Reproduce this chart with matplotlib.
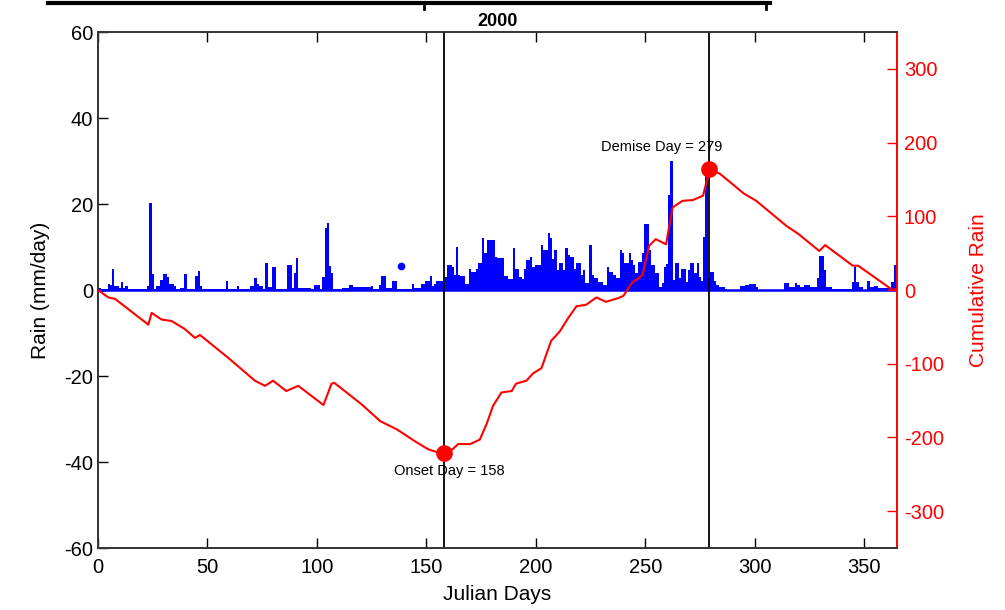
import numpy as np
import matplotlib.pyplot as plt
from matplotlib.lines import Line2D

plt.rcParams['font.family'] = ['Liberation Sans', 'DejaVu Sans']
plt.rcParams['axes.unicode_minus'] = False

# daily rain (mm/day), Julian day 0..365
rain = [
    0.5, 0.5, 0.3, 0.3, 0.3, 1.5, 1.2, 5.0, 1.0, 1.0,
    0.5, 1.8, 0.5, 1.0, 0.3, 0.3, 0.3, 0.3, 0.3, 0.3,
    0.3, 0.3, 0.3, 1.0, 20.3, 3.7, 0.3, 1.0, 1.0, 2.3,
    3.7, 3.7, 3.0, 1.5, 1.5, 1.0, 0.3, 0.3, 0.5, 0.5,
    3.7, 0.3, 0.3, 0.3, 0.3, 3.2, 4.5, 1.0, 0.3, 0.3,
    0.3, 0.3, 0.3, 0.3, 0.3, 0.3, 0.3, 0.3, 0.3, 2.0,
    0.2, 0.2, 0.2, 0.2, 1.0, 0.2, 0.2, 0.2, 0.2, 0.2,
    1.0, 1.0, 2.7, 1.5, 1.0, 1.0, 0.3, 6.3, 0.6, 0.6,
    5.4, 5.4, 0.3, 0.3, 0.3, 0.3, 0.3, 5.9, 5.9, 0.5,
    4.0, 7.5, 0.5, 0.5, 0.5, 0.5, 0.5, 0.5, 0.3, 1.2,
    1.2, 1.2, 0.3, 3.0, 14.4, 15.6, 5.6, 3.9, 0.3, 0.3,
    0.3, 0.3, 0.5, 0.5, 0.5, 1.2, 1.2, 0.6, 0.6, 0.6,
    0.6, 0.6, 0.6, 0.6, 0.6, 1.0, 0.3, 0.3, 0.3, 1.2,
    3.3, 3.3, 0.4, 0.4, 0.4, 2.2, 2.2, 0.2, 0.2, 0.2,
    0.2, 0.2, 0.2, 0.2, 1.5, 0.5, 0.5, 0.5, 1.5, 1.5,
    2.2, 2.2, 3.2, 1.0, 1.5, 2.2, 2.2, 2.2, 0.5, 3.1,
    5.8, 5.8, 5.4, 3.6, 10.0, 3.6, 3.3, 3.3, 1.5, 1.5,
    5.0, 4.2, 4.2, 5.0, 6.3, 6.3, 12.2, 8.6, 11.7, 11.7,
    11.6, 11.6, 7.6, 7.5, 7.4, 7.4, 3.3, 3.3, 2.5, 2.5,
    9.7, 5.0, 5.0, 3.1, 2.5, 5.0, 7.0, 7.0, 7.6, 5.4,
    5.8, 5.8, 5.8, 10.5, 9.3, 9.3, 13.2, 12.2, 7.2, 9.4,
    4.7, 6.4, 6.4, 4.7, 9.7, 8.2, 7.6, 7.6, 5.0, 6.2,
    6.2, 3.5, 4.7, 1.6, 1.6, 10.5, 3.5, 2.7, 2.7, 1.9,
    1.9, 1.2, 1.2, 5.4, 4.3, 4.3, 3.5, 2.7, 2.7, 9.4,
    8.5, 6.2, 6.2, 8.5, 7.0, 5.8, 3.9, 6.6, 6.6, 8.5,
    15.3, 15.3, 9.3, 5.8, 5.8, 3.9, 3.9, 0.8, 1.6, 5.4,
    6.0, 22.0, 30.0, 2.3, 6.4, 6.4, 2.7, 5.0, 5.0, 1.9,
    4.7, 6.2, 6.2, 3.9, 6.2, 3.0, 2.0, 12.3, 28.0, 2.6,
    4.1, 4.1, 2.0, 1.2, 0.6, 0.6, 0.6, 0.3, 0.1, 0.1,
    0.1, 0.1, 0.1, 0.1, 1.0, 1.0, 1.2, 1.2, 1.4, 1.4,
    1.4, 0.8, 0.1, 0.1, 0.1, 0.1, 0.1, 0.1, 0.1, 0.1,
    0.1, 0.1, 0.1, 0.1, 1.7, 1.7, 0.6, 0.6, 0.6, 1.7,
    1.2, 0.6, 0.6, 1.2, 1.2, 1.2, 0.6, 0.6, 0.6, 2.7,
    7.9, 7.9, 4.7, 0.6, 0.6, 0.6, 0.3, 0.3, 0.3, 0.3,
    0.3, 0.3, 0.3, 0.3, 0.3, 1.9, 5.4, 1.9, 0.6, 0.6,
    0.1, 0.1, 2.0, 0.6, 0.6, 1.0, 1.0, 0.4, 0.4, 0.4,
    0.4, 0.4, 0.4, 1.9, 5.9, 5.9,
]
days = np.arange(len(rain))

# single marked point
dot_day = 138.3
dot_rain = 5.6

# cumulative rain anomaly (right axis)
cum_days = [0, 4.7, 7.8, 23, 24.5, 29, 33.6, 39.7, 44.3, 46.6,
            59.5, 71.7, 76.3, 80, 86, 91.5, 103, 106.7, 108, 120.4,
            129, 136.5, 144.7, 150.8, 156, 158, 162, 164.5, 170, 174.4,
            177.5, 180.5, 184.3, 189, 191, 195.7, 198.8, 202.6, 207, 211,
            214.8, 218.6, 223, 227.7, 232, 237.6, 240, 244, 248.7, 251.8,
            254.8, 259.5, 262.5, 267, 271.8, 276.4, 278.7, 279, 284, 295,
            300.7, 314.5, 320, 329.5, 332.2, 344.8, 347.3, 363, 365]
cum_vals = [0, -10, -12, -47, -31, -40, -42, -53, -65, -61,
            -92, -123, -130, -123, -137, -130, -156, -127, -126, -155,
            -178, -189, -205, -216, -221, -221, -216, -209, -209, -203,
            -182, -157, -139, -137, -127, -123, -113, -106, -69, -56,
            -38, -22, -20, -10, -16, -11, -8, 10, 20, 60,
            69, 62, 112, 121, 122, 128, 155, 164, 158, 131,
            121, 87, 76, 53, 61, 33, 33, 0, 2]

event_days = [158, 279]
event_vals = [-221, 164]
event_labels = ['Onset Day = 158', 'Demise Day = 279']

fig = plt.figure(figsize=(10.05, 6.10), dpi=100)
ax = fig.add_axes([0.0975, 0.1016, 0.795, 0.8459])
ax2 = ax.twinx()

ax.bar(days, rain, width=1.0, color='#0000ff', linewidth=0, zorder=2)
ax.axhline(0, color='#0000ff', lw=1.8, zorder=2)
ax.plot([dot_day], [dot_rain], 'o', color='#0000ff', ms=4.5, zorder=3)

for d in event_days:
    ax.axvline(d, color='black', lw=1.3, zorder=4)

ax.set_xlim(0, 365)
ax.set_ylim(-60, 60)
ax.set_xticks(np.arange(0, 351, 50))
ax.set_yticks(np.arange(-60, 61, 20))
ax.tick_params(axis='both', direction='in', length=7, width=1, labelsize=14.5,
               top=True, right=False, colors='black')
ax.tick_params(axis='x', pad=7)
ax.set_xlabel('Julian Days', fontsize=15, labelpad=6)
ax.set_ylabel('Rain (mm/day)', fontsize=15, labelpad=10)
ax.set_title('2000', fontsize=13, fontweight='bold', pad=4)

ax2.plot(cum_days, cum_vals, color='#ff0000', lw=1.5, zorder=5)
ax2.plot(event_days, event_vals, 'o', color='#ff0000', ms=11, zorder=6)
ax2.text(160.5, -246, event_labels[0], ha='center', va='center', fontsize=10.5)
ax2.text(257.5, 194, event_labels[1], ha='center', va='center', fontsize=10.5)
ax2.set_ylim(-350, 350)
ax2.set_yticks(np.arange(-300, 301, 100))
ax2.tick_params(axis='y', direction='in', length=7, width=1, labelsize=14.5,
                colors='#ff0000', pad=5)
ax2.set_ylabel('Cumulative Rain', fontsize=15, color='#ff0000', labelpad=18)

for a in (ax, ax2):
    a.spines['left'].set_color('#333333')
    a.spines['bottom'].set_color('#333333')
    a.spines['top'].set_color('#333333')
    a.spines['right'].set_color('#ff0000')
    for s in a.spines.values():
        s.set_linewidth(1.2)

# cut-off frame from the page above
fig.add_artist(Line2D([48 / 1005, 770 / 1005], [1 - 3 / 610, 1 - 3 / 610],
                      color='black', lw=3, transform=fig.transFigure))
for xe in (424, 766):
    fig.add_artist(Line2D([xe / 1005, xe / 1005], [1 - 3 / 610, 1 - 9 / 610],
                          color='black', lw=2, transform=fig.transFigure))

fig.savefig('out.png', dpi=100)
